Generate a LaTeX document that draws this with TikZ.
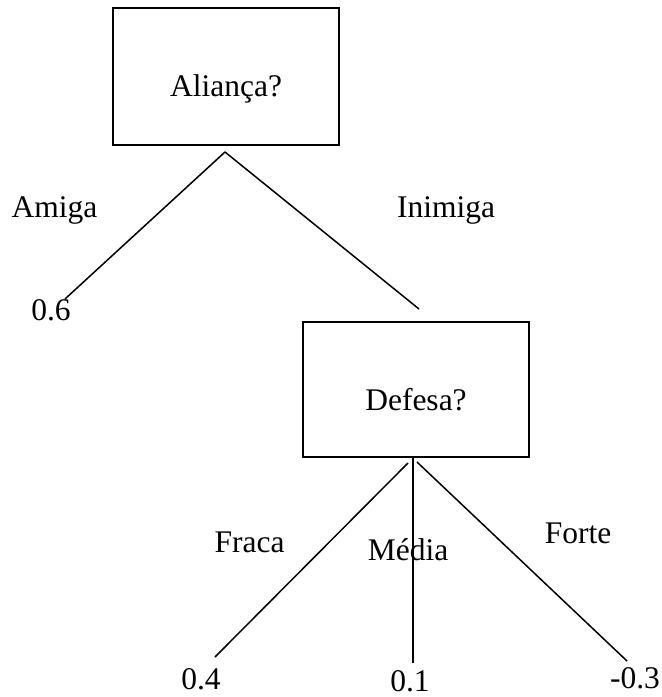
\documentclass[tikz,border=0pt]{standalone}
\usepackage{fontspec}
\setmainfont{Liberation Serif}

\tikzset{
  decision/.style={draw,line width=1.5bp,minimum width=226bp,minimum height=137bp,
                   text height=41bp,text depth=0bp},
  branch/.style={line width=1.5bp},
  txt/.style={anchor=base,inner sep=0pt}
}

\begin{document}
\begin{tikzpicture}[x=1bp,y=-1bp,every node/.style={font=\fontsize{31.5bp}{38bp}\selectfont}]
  \useasboundingbox (0,0) rectangle (662,697);
  % question boxes
  \node[decision] (alianca) at (226,76.5) {Aliança?};
  \node[decision,minimum height=135bp] (defesa) at (416,389.5) {Defesa?};
  % branch ends
  \coordinate (topA) at (225,152);
  \coordinate (endAmiga) at (65,299);
  \coordinate (endInimiga) at (419,309);
  \coordinate (topF) at (408,463);
  \coordinate (topM) at (413,457);
  \coordinate (topS) at (417,462);
  \coordinate (endFraca) at (215,657);
  \coordinate (endMedia) at (413,663);
  \coordinate (endForte) at (627,661);
  \draw[branch] (topA) -- (endAmiga);
  \draw[branch] (topA) -- (endInimiga);
  \draw[branch] (topF) -- (endFraca);
  \draw[branch] (topM) -- (endMedia);
  \draw[branch] (topS) -- (endForte);
  % branch labels
  \node[txt] (amiga) at (54.5,217) {Amiga};
  \node[txt] (inimiga) at (446,217) {Inimiga};
  \node[txt] (fraca) at (249.5,552) {Fraca};
  \node[txt] (media) at (408,560) {Média};
  \node[txt] (forte) at (578,543) {Forte};
  % values
  \node[txt] (v06) at (51,320) {0.6};
  \node[txt] (v04) at (201,689) {0.4};
  \node[txt] (v01) at (410,691) {0.1};
  \node[txt] (v03) at (635,688) {-0.3};
\end{tikzpicture}
\end{document}
